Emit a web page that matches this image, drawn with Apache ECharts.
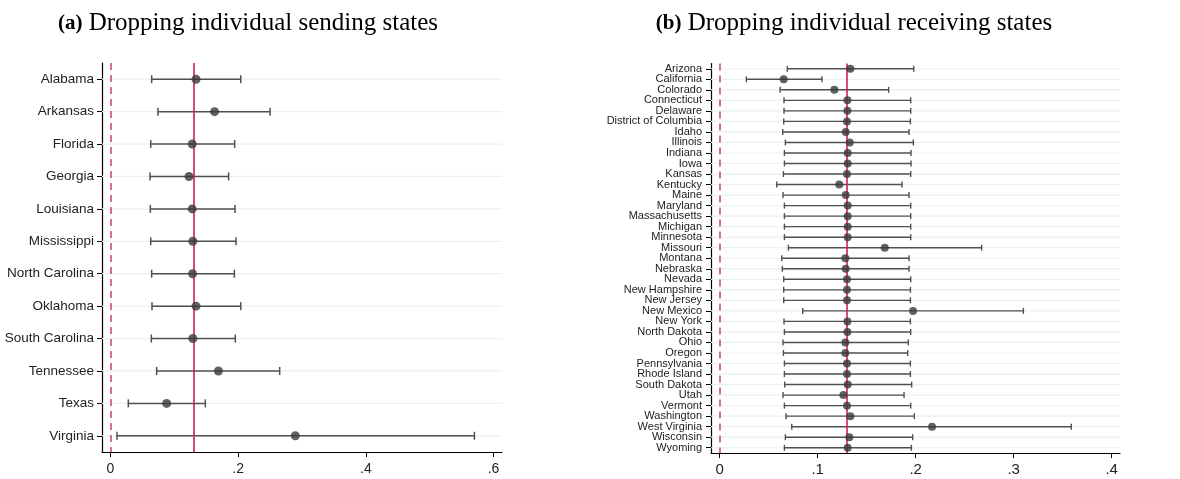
<!DOCTYPE html>
<html>
<head>
<meta charset="utf-8">
<script src="https://cdn.jsdelivr.net/npm/echarts@6/dist/echarts.min.js"></script>
<style>
html,body{margin:0;padding:0;background:#fff;}
#chart{width:1180px;height:479px;}
</style>
</head>
<body>
<div id="chart"></div>
<script>
// ---- Panel (a): dropping individual sending states ----
const sendStates = ["Alabama","Arkansas","Florida","Georgia","Louisiana","Mississippi","North Carolina","Oklahoma","South Carolina","Tennessee","Texas","Virginia"];
const sendEst = [0.134,0.163,0.128,0.123,0.128,0.129,0.1285,0.134,0.129,0.169,0.088,0.2895];
const sendLo  = [0.0645,0.0744,0.063,0.0619,0.0624,0.063,0.0645,0.065,0.064,0.0723,0.0279,0.0102];
const sendHi  = [0.204,0.250,0.1945,0.185,0.195,0.1966,0.194,0.204,0.1955,0.265,0.1485,0.570];
const sendTicks = [0,0.2,0.4,0.6];
const sendBaseline = 0.130;

// ---- Panel (b): dropping individual receiving states ----
const recvStates = ["Arizona","California","Colorado","Connecticut","Delaware","District of Columbia","Idaho","Illinois","Indiana","Iowa","Kansas","Kentucky","Maine","Maryland","Massachusetts","Michigan","Minnesota","Missouri","Montana","Nebraska","Nevada","New Hampshire","New Jersey","New Mexico","New York","North Dakota","Ohio","Oregon","Pennsylvania","Rhode Island","South Dakota","Utah","Vermont","Washington","West Virginia","Wisconsin","Wyoming"];
const recvEst = [0.1333,0.0653,0.117,0.1303,0.1303,0.1299,0.1286,0.1327,0.1306,0.1306,0.1299,0.122,0.1286,0.1306,0.1306,0.1306,0.1306,0.1684,0.1282,0.1286,0.1299,0.1299,0.1299,0.1973,0.1303,0.1303,0.1282,0.1282,0.1299,0.1299,0.1306,0.1262,0.1299,0.1333,0.2167,0.1323,0.1306];
const recvLo  = [0.069,0.0272,0.0616,0.0656,0.0656,0.0653,0.0643,0.067,0.066,0.066,0.065,0.0582,0.0646,0.066,0.066,0.066,0.066,0.0701,0.0633,0.0639,0.0653,0.0653,0.0653,0.0847,0.0656,0.066,0.0646,0.065,0.066,0.066,0.0663,0.0646,0.066,0.0677,0.0735,0.067,0.066];
const recvHi  = [0.198,0.1044,0.1724,0.1949,0.1949,0.1946,0.1932,0.1976,0.1952,0.1952,0.1949,0.186,0.1932,0.1949,0.1949,0.1949,0.1949,0.2673,0.1932,0.1932,0.1949,0.1946,0.1946,0.3099,0.1946,0.1949,0.1925,0.1918,0.1946,0.1946,0.1959,0.1881,0.1949,0.1986,0.3588,0.1969,0.1956];
const recvTicks = [0,0.1,0.2,0.3,0.4];
const recvBaseline = 0.130;

const fmt = v => (Math.abs(v) < 1e-9 ? "0" : String(+v.toFixed(2)).replace(/^0\./, "."));
const SANS = "Liberation Sans";
const SERIF = "Liberation Serif";
const RED = "#d21f4f";
const DASH = "#cc4d72";
const GRIDC = "#e9f1f3";
const BARC = "#505050";
const DOTC = "#3a3a3a";

function errRender(capH, lw) {
  return function (params, api) {
    const yi = api.value(0);
    const lo = api.coord([api.value(1), yi]);
    const hi = api.coord([api.value(2), yi]);
    const style = { stroke: BARC, lineWidth: lw };
    return {
      type: "group",
      children: [
        { type: "line", shape: { x1: lo[0], y1: lo[1], x2: hi[0], y2: hi[1] }, style },
        { type: "line", shape: { x1: lo[0], y1: lo[1] - capH, x2: lo[0], y2: lo[1] + capH }, style },
        { type: "line", shape: { x1: hi[0], y1: hi[1] - capH, x2: hi[0], y2: hi[1] + capH }, style }
      ]
    };
  };
}
function gridRender(params, api) {
  const yi = api.value(0);
  const p = api.coord([0, yi]);
  const cs = params.coordSys;
  return { type: "line", shape: { x1: cs.x, y1: p[1], x2: cs.x + cs.width, y2: p[1] }, style: { stroke: GRIDC, lineWidth: 1.2 } };
}

function vline(x, color, type, xi, yi) {
  return {
    type: "line", xAxisIndex: xi, yAxisIndex: yi, data: [], silent: true, z: 3,
    markLine: {
      symbol: "none", silent: true, label: { show: false }, animation: false,
      lineStyle: { color, type, width: 1.6 },
      data: [{ xAxis: x }]
    }
  };
}

const idxS = sendStates.map((_, i) => i);
const idxR = recvStates.map((_, i) => i);

function titleOf(tag, rest, cx) {
  return {
    text: "{b|" + tag + "} " + rest,
    left: cx, top: 6, textAlign: "center",
    textStyle: { fontFamily: SERIF, fontSize: 25, fontWeight: "normal", color: "#000",
      rich: { b: { fontFamily: SERIF, fontSize: 21, fontWeight: "bold", color: "#000" } } }
  };
}

const option = {
  animation: false,
  backgroundColor: "#fff",
  title: [
    titleOf("(a)", "Dropping individual sending states", 243),
    titleOf("(b)", "Dropping individual receiving states", 849)
  ],
  grid: [
    { left: 102, width: 400, top: 63, height: 389 },
    { left: 711, width: 409, top: 63.5, height: 389.5 }
  ],
  xAxis: [
    {
      type: "value", gridIndex: 0, min: -0.0133, max: 0.6132,
      axisLine: { show: true, onZero: false, lineStyle: { color: "#000", width: 1.2 } },
      axisTick: { show: true, length: 5, lineStyle: { color: "#000" }, customValues: sendTicks },
      axisLabel: { customValues: sendTicks, formatter: fmt, fontFamily: SANS, fontSize: 14, color: "#222", margin: 10 },
      splitLine: { show: false }
    },
    {
      type: "value", gridIndex: 1, min: -0.0089, max: 0.4085,
      axisLine: { show: true, onZero: false, lineStyle: { color: "#000", width: 1.2 } },
      axisTick: { show: true, length: 5, lineStyle: { color: "#000" }, customValues: recvTicks },
      axisLabel: { customValues: recvTicks, formatter: fmt, fontFamily: SANS, fontSize: 15, color: "#222", margin: 9 },
      splitLine: { show: false }
    }
  ],
  yAxis: [
    {
      type: "category", gridIndex: 0, data: sendStates, inverse: true, boundaryGap: true,
      axisLine: { show: true, onZero: false, lineStyle: { color: "#000", width: 1.2 } },
      axisTick: { show: true, alignWithLabel: true, length: 5, lineStyle: { color: "#000" } },
      axisLabel: { fontFamily: SANS, fontSize: 13.5, color: "#222", margin: 8, interval: 0 },
      splitLine: { show: false }
    },
    {
      type: "category", gridIndex: 1, data: recvStates, inverse: true, boundaryGap: true,
      axisLine: { show: true, onZero: false, lineStyle: { color: "#000", width: 1.2 } },
      axisTick: { show: true, alignWithLabel: true, length: 5, lineStyle: { color: "#000" } },
      axisLabel: { fontFamily: SANS, fontSize: 11, color: "#222", margin: 9, interval: 0, lineHeight: 11 },
      splitLine: { show: false }
    }
  ],
  series: [
    { type: "custom", xAxisIndex: 0, yAxisIndex: 0, renderItem: gridRender, data: idxS.map(i => [i]), encode: { y: 0 }, z: 1, silent: true },
    { type: "custom", xAxisIndex: 1, yAxisIndex: 1, renderItem: gridRender, data: idxR.map(i => [i]), encode: { y: 0 }, z: 1, silent: true },
    vline(0, DASH, [7, 5], 0, 0),
    vline(sendBaseline, RED, "solid", 0, 0),
    vline(0, DASH, [7, 5], 1, 1),
    vline(recvBaseline, RED, "solid", 1, 1),
    {
      type: "custom", xAxisIndex: 0, yAxisIndex: 0, renderItem: errRender(4, 1.5), z: 4, silent: true,
      data: idxS.map(i => [i, sendLo[i], sendHi[i]]), encode: { y: 0, x: [1, 2] }
    },
    {
      type: "custom", xAxisIndex: 1, yAxisIndex: 1, renderItem: errRender(3, 1.4), z: 4, silent: true,
      data: idxR.map(i => [i, recvLo[i], recvHi[i]]), encode: { y: 0, x: [1, 2] }
    },
    {
      type: "scatter", xAxisIndex: 0, yAxisIndex: 0, symbol: "circle", symbolSize: 9, z: 5, silent: true,
      itemStyle: { color: DOTC }, data: idxS.map(i => [sendEst[i], sendStates[i]])
    },
    {
      type: "scatter", xAxisIndex: 1, yAxisIndex: 1, symbol: "circle", symbolSize: 8, z: 5, silent: true,
      itemStyle: { color: DOTC }, data: idxR.map(i => [recvEst[i], recvStates[i]])
    }
  ]
};

const chart = echarts.init(document.getElementById("chart"), null, { renderer: "canvas" });
chart.setOption(option);
</script>
</body>
</html>
